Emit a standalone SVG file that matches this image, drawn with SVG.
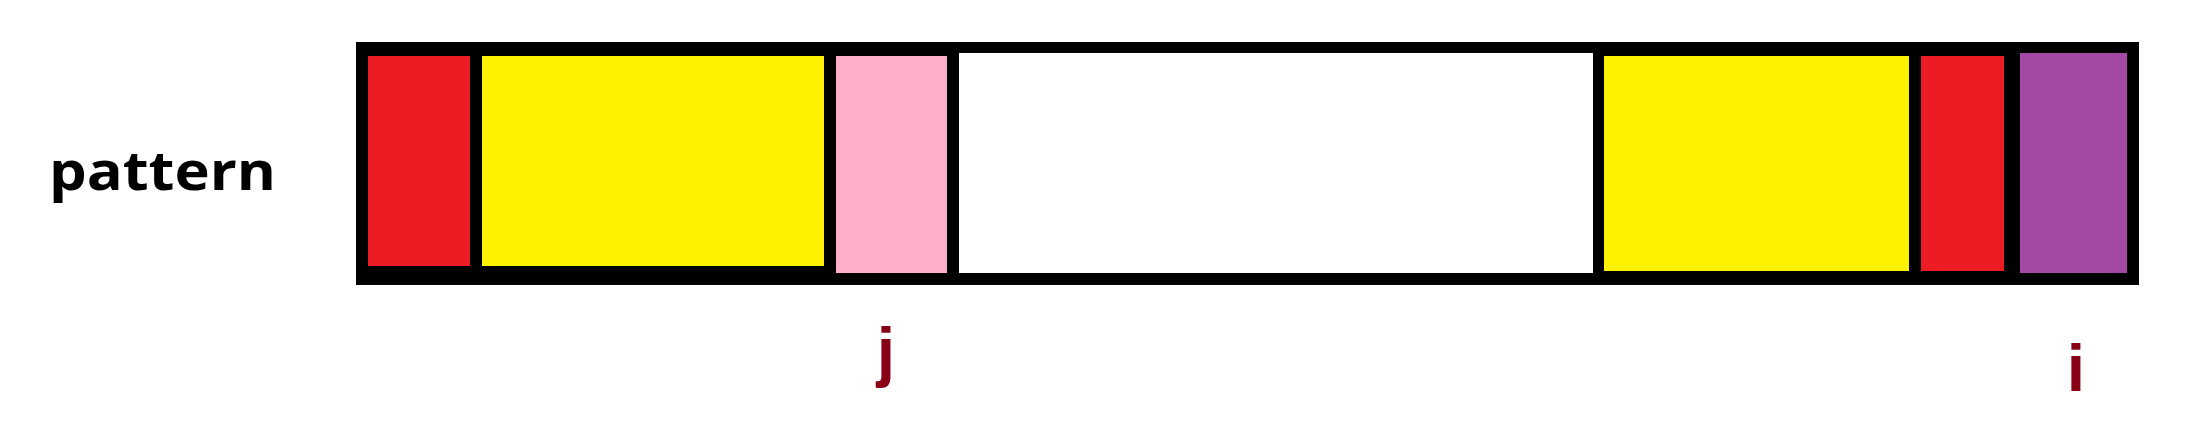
<svg xmlns="http://www.w3.org/2000/svg" width="2199" height="423" viewBox="0 0 2199 423">
<style>
.lbl{font-family:"Open Sans","Liberation Sans",Arial,sans-serif;font-weight:bold;font-size:54px;fill:#000000}
.idx{font-family:"Liberation Sans",Arial,sans-serif;font-weight:bold;font-size:66px;fill:#880015;text-anchor:middle}
.red{fill:#ED1C24}.yel{fill:#FFF200}.pink{fill:#FFAEC9}.pur{fill:#A349A4}.wht{fill:#FFFFFF}
</style>
<rect width="2199" height="423" fill="#FFFFFF"/>
<g id="pattern-label"><text class="lbl" x="49" y="190" textLength="227" lengthAdjust="spacingAndGlyphs">pattern</text></g>
<g id="pattern-bar">
<rect x="356" y="42" width="1783" height="243" fill="#000000"/>
<rect id="seg-red1" class="red" x="368" y="56" width="102" height="210"/>
<rect id="seg-yellow1" class="yel" x="482" y="56" width="342" height="210"/>
<rect id="seg-pink" class="pink" x="836" y="56" width="111" height="217"/>
<rect id="seg-white" class="wht" x="959" y="53" width="634" height="220"/>
<rect id="seg-yellow2" class="yel" x="1604" y="56" width="305" height="215"/>
<rect id="seg-red2" class="red" x="1921" y="56" width="83" height="215"/>
<rect id="seg-purple" class="pur" x="2020" y="53" width="107" height="220"/>
</g>
<g id="label-j"><text class="idx" x="886" y="374">j</text></g>
<g id="label-i"><text class="idx" x="2076" y="391">i</text></g>
<g id="connectors"></g>
</svg>
